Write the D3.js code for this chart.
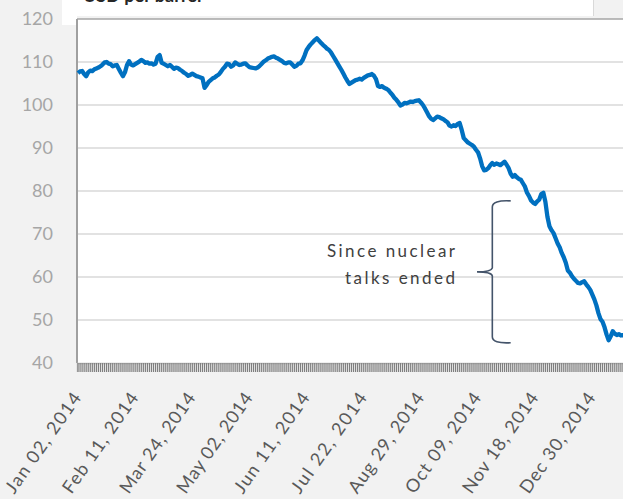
<!DOCTYPE html>
<html>
<head>
<meta charset="utf-8">
<script src="https://cdn.jsdelivr.net/npm/d3@7"></script>
<style>
  body { margin: 0; background: #f2f2f2; }
  svg { display: block; font-family: Lato, "Open Sans", sans-serif; }
</style>
</head>
<body>
<div id="chart"></div>
<script>
// daily oil price, USD per barrel, one value per trading day from Jan 02, 2014
var prices = [
  107.4, 107.8, 107.9, 107.2, 106.7, 107.6, 108.0, 107.9, 108.3, 108.5,
  108.7, 109.0, 109.4, 109.9, 110.0, 109.6, 109.5, 109.0, 109.2, 109.3,
  108.4, 107.5, 106.7, 107.6, 109.3, 110.2, 109.4, 109.2, 109.5, 109.8,
  110.1, 110.5, 110.2, 109.8, 109.9, 109.6, 109.7, 109.4, 109.6, 111.2,
  111.6, 109.8, 109.6, 109.3, 109.0, 109.3, 108.9, 108.4, 108.7, 108.6,
  108.2, 107.9, 107.5, 107.2, 106.8, 107.0, 107.3, 107.0, 106.7, 106.6,
  106.4, 106.2, 104.0, 104.6, 105.4, 105.8, 106.2, 106.4, 106.8, 107.1,
  107.7, 108.4, 108.9, 109.6, 109.5, 108.9, 109.2, 109.9, 109.6, 109.3,
  109.4, 109.6, 109.7, 109.2, 108.8, 108.7, 108.6, 108.5, 108.7, 109.1,
  109.6, 110.1, 110.4, 110.8, 111.0, 111.2, 111.3, 111.0, 110.8, 110.5,
  110.2, 109.8, 109.7, 109.9, 109.9, 109.4, 108.9, 109.1, 109.6, 109.7,
  110.4, 111.5, 112.8, 113.5, 114.1, 114.6, 115.1, 115.5, 115.0, 114.5,
  114.0, 113.6, 113.1, 112.8, 112.2, 111.4, 110.6, 109.8, 109.0, 108.2,
  107.3, 106.4, 105.6, 104.9, 105.2, 105.5, 105.8, 105.9, 106.1, 105.9,
  106.3, 106.6, 106.9, 107.0, 107.2, 106.8, 106.0, 104.4, 104.2, 104.4,
  104.0, 103.8, 103.5, 102.9, 102.4, 101.7, 101.2, 100.6, 99.9, 100.1,
  100.5, 100.4, 100.6, 100.8, 100.7, 100.9, 101.0, 101.1, 100.6, 100.0,
  99.2, 98.3, 97.4, 96.8, 96.5, 96.9, 97.3, 97.2, 96.9, 96.7,
  96.3, 96.0, 95.2, 95.0, 95.3, 95.1, 95.6, 95.8, 94.2, 92.3,
  91.8, 91.3, 91.0, 90.7, 90.3, 89.6, 89.0, 87.6, 85.8, 84.8,
  84.9, 85.3, 86.0, 86.5, 86.1, 86.4, 86.2, 86.0, 86.4, 86.8,
  86.1, 85.3, 84.0, 83.3, 83.7, 83.2, 82.8, 82.6, 81.8, 81.0,
  79.6, 78.8, 77.8, 77.3, 77.0, 77.6, 78.0, 79.3, 79.6, 77.5,
  74.0, 71.8, 70.9, 70.2, 69.0, 67.8, 66.9, 65.6, 64.6, 63.3,
  61.5, 61.0, 60.2, 59.6, 59.1, 58.6, 58.5, 58.8, 59.0, 58.3,
  57.7, 57.0, 55.9, 54.8, 53.4, 51.6, 50.2, 49.6, 48.3, 46.6,
  45.3, 46.2, 47.4, 46.8, 46.5, 46.7, 46.4, 46.5, 46.3
];

// category labels shown on the x axis, one every 28 trading days
var tickLabels = ["Jan 02, 2014", "Feb 11, 2014", "Mar 24, 2014", "May 02, 2014",
  "Jun 11, 2014", "Jul 22, 2014", "Aug 29, 2014", "Oct 09, 2014",
  "Nov 18, 2014", "Dec 30, 2014"];
var labelEvery = 28;

var yTicks = [40, 50, 60, 70, 80, 90, 100, 110, 120];

var titleText = "USD per barrel";
var noteLines = ["Since nuclear", "talks ended"];
var braceFrom = 77.7, braceTo = 44.7, braceAt = 203;

var W = 623, H = 499;
var plot = {left: 77, top: 19, width: 549, height: 344};

var svg = d3.select("#chart").append("svg")
  .attr("width", W)
  .attr("height", H);

/****** TITLE BOX (cut off at the top) ******/
svg.append("rect")
  .attr("x", 62).attr("y", 0)
  .attr("width", 531).attr("height", 16)
  .attr("fill", "#fff");
svg.append("rect")
  .attr("x", 62).attr("y", 0)
  .attr("width", 15).attr("height", 25)
  .attr("fill", "#fff");
svg.append("line")
  .attr("x1", 593.5).attr("x2", 593.5)
  .attr("y1", 0).attr("y2", 16)
  .attr("stroke", "#d9d9d9");
svg.append("text")
  .attr("x", 83).attr("y", 2)
  .style("font-size", "18px")
  .style("font-weight", "bold")
  .attr("fill", "#262626")
  .text(titleText);

/****** SCALES ******/
var x = d3.scaleBand()
  .domain(d3.range(prices.length))
  .range([plot.left, plot.left + plot.width]);

var y = d3.scaleLinear()
  .domain([40, 120])
  .range([plot.top + plot.height, plot.top]);

var cx = function(i) { return x(i) + x.bandwidth() / 2; };

// plot area
svg.append("rect")
  .attr("x", plot.left).attr("y", plot.top)
  .attr("width", plot.width).attr("height", plot.height)
  .attr("fill", "#fff");

// gridlines
svg.append("g")
  .selectAll("line")
  .data(yTicks.filter(function(d) { return d > 40 && d < 120; }))
  .enter()
  .append("line")
    .attr("x1", plot.left).attr("x2", plot.left + plot.width)
    .attr("y1", function(d) { return y(d); })
    .attr("y2", function(d) { return y(d); })
    .attr("stroke", "#d9d9d9")
    .attr("stroke-width", 1.5);

// plot border top + left
svg.append("line")
  .attr("x1", plot.left).attr("x2", plot.left + plot.width)
  .attr("y1", plot.top).attr("y2", plot.top)
  .attr("stroke", "#a6a6a6").attr("stroke-width", 1.5);
svg.append("line")
  .attr("x1", plot.left).attr("x2", plot.left)
  .attr("y1", plot.top).attr("y2", plot.top + plot.height)
  .attr("stroke", "#a0a0a0").attr("stroke-width", 2);

/****** Y AXIS LABELS ******/
svg.append("g")
  .selectAll("text")
  .data(yTicks)
  .enter()
  .append("text")
    .attr("x", 53)
    .attr("y", function(d) { return y(d); })
    .attr("dy", "0.36em")
    .attr("text-anchor", "end")
    .style("font-size", "18px")
    .attr("fill", "#a6a6a6")
    .text(function(d) { return d; });

/****** X AXIS: dense category ticks ******/
var xAxisTicks = d3.axisBottom(x)
  .tickSize(9)
  .tickFormat("");

var gTicks = svg.append("g")
  .attr("transform", "translate(0," + (plot.top + plot.height) + ")")
  .call(xAxisTicks);
gTicks.select(".domain").attr("stroke", "#bfbfbf").attr("stroke-width", 1.5);
gTicks.selectAll(".tick line").attr("stroke", "#7f7f7f").attr("stroke-width", 1.2);

// rotated labels
var labelIdx = tickLabels.map(function(d, i) { return i * labelEvery; });
var xAxisLabels = d3.axisBottom(x)
  .tickValues(labelIdx)
  .tickSize(0)
  .tickFormat(function(d) { return tickLabels[d / labelEvery]; });

var gLabels = svg.append("g")
  .attr("transform", "translate(0," + (plot.top + plot.height) + ")")
  .call(xAxisLabels);
gLabels.select(".domain").remove();
gLabels.selectAll("text")
  .attr("x", 0).attr("y", 0).attr("dy", 0)
  .attr("text-anchor", "end")
  .attr("transform", "translate(4,35) rotate(-55)")
  .attr("textLength", 118)
  .attr("lengthAdjust", "spacing")
  .style("font-family", "Lato, 'Open Sans', sans-serif")
  .style("font-size", "18px")
  .attr("fill", "#595959");

/****** PRICE LINE ******/
var line = d3.line()
  .x(function(d, i) { return cx(i); })
  .y(function(d) { return y(d); });

svg.append("path")
  .datum(prices)
  .attr("d", line)
  .attr("fill", "none")
  .attr("stroke", "#0070c0")
  .attr("stroke-width", 4.3)
  .attr("stroke-linejoin", "round");

/****** ANNOTATION ******/
var step = x.step();
var bx = cx(braceAt), tip = bx + 9 * step, nose = bx - 7.5 * step;
var yTop = y(braceFrom), yBot = y(braceTo), yMid = (yTop + yBot) / 2;
var brace = d3.path();
brace.moveTo(tip, yTop);
brace.quadraticCurveTo(bx, yTop - 1, bx, yTop + 6);
brace.lineTo(bx, yMid - 4);
brace.quadraticCurveTo(bx - 1, yMid, nose, yMid);
brace.quadraticCurveTo(bx - 1, yMid, bx, yMid + 4);
brace.lineTo(bx, yBot - 6);
brace.quadraticCurveTo(bx, yBot + 1, tip, yBot);

svg.append("path")
  .attr("d", brace.toString())
  .attr("fill", "none")
  .attr("stroke", "#44546a")
  .attr("stroke-width", 1.6);

svg.append("g")
  .selectAll("text")
  .data(noteLines)
  .enter()
  .append("text")
    .attr("x", 455)
    .attr("y", function(d, i) { return 257 + i * 27; })
    .attr("text-anchor", "end")
    .attr("textLength", function(d, i) { return i === 0 ? 128 : 110; })
    .attr("lengthAdjust", "spacing")
    .style("font-size", "17px")
    .attr("fill", "#404040")
    .text(function(d) { return d; });
</script>
</body>
</html>
